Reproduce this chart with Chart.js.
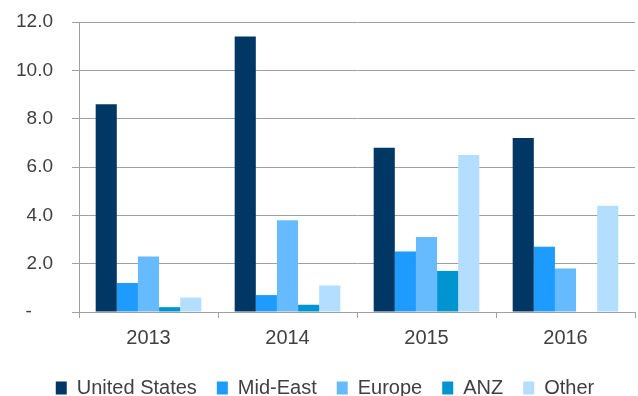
<!DOCTYPE html>
<html>
<head>
<meta charset="utf-8">
<script src="https://cdn.jsdelivr.net/npm/chart.js@4.4.1/dist/chart.umd.min.js"></script>
<style>
  html, body { margin: 0; padding: 0; background: #fff; }
  #wrap { width: 638px; height: 396px; }
</style>
</head>
<body>
<div id="wrap"><canvas id="regionChart"></canvas></div>
<script>
const years = ["2013", "2014", "2015", "2016"];
const unitedStates = [8.6, 11.4, 6.8, 7.2];
const midEast = [1.2, 0.7, 2.5, 2.7];
const europe = [2.3, 3.8, 3.1, 1.8];
const anz = [0.2, 0.3, 1.7, null];
const other = [0.6, 1.1, 6.5, 4.4];
const yTicks = [0, 2, 4, 6, 8, 10, 12];

const textColor = "#404040";
const gridColor = "#a0a0a0";
const fontFamily = "'Liberation Sans', Arial, sans-serif";

const series = [
    { label: "United States", data: unitedStates, color: "#003764" },
    { label: "Mid-East", data: midEast, color: "#1e9bff" },
    { label: "Europe", data: europe, color: "#66bbff" },
    { label: "ANZ", data: anz, color: "#0094d0" },
    { label: "Other", data: other, color: "#b4deff" },
];

const ctx = document.getElementById("regionChart").getContext("2d");
new Chart(ctx, {
    type: "bar",
    data: {
        labels: years,
        datasets: series.map((s) => ({
            label: s.label,
            data: s.data,
            backgroundColor: s.color,
            borderWidth: 0,
            categoryPercentage: 0.76,
            barPercentage: 1.0,
        })),
    },
    options: {
        responsive: true,
        maintainAspectRatio: false,
        animation: false,
        devicePixelRatio: 1,
        layout: { padding: { top: 22, right: 3, left: 15, bottom: -12 } },
        plugins: {
            tooltip: { enabled: false },
            legend: {
                position: "bottom",
                labels: {
                    color: textColor,
                    font: { family: fontFamily, size: 20 },
                    boxWidth: 11,
                    boxHeight: 13,
                    padding: 20,
                },
            },
        },
        scales: {
            x: {
                offset: true,
                grid: {
                    offset: true,
                    drawOnChartArea: false,
                    color: gridColor,
                    tickLength: 6,
                },
                border: { color: gridColor, width: 1 },
                ticks: {
                    color: textColor,
                    font: { family: fontFamily, size: 20 },
                    padding: 8,
                },
            },
            y: {
                min: yTicks[0],
                max: yTicks[yTicks.length - 1],
                afterBuildTicks: (axis) => {
                    axis.ticks = yTicks.map((v) => ({ value: v }));
                },
                // fixed axis width: label column + padding + tick;
                // the top margin comes from layout padding alone
                afterFit: (axis) => {
                    axis.width = 64;
                    axis.paddingTop = 0;
                },
                grid: { color: gridColor, tickLength: 7 },
                border: { color: gridColor, width: 1 },
                ticks: {
                    color: textColor,
                    font: { family: fontFamily, size: 19 },
                    padding: 19,
                    callback: (v) => (v === 0 ? "-    " : v.toFixed(1)),
                },
            },
        },
    },
});
</script>
</body>
</html>
